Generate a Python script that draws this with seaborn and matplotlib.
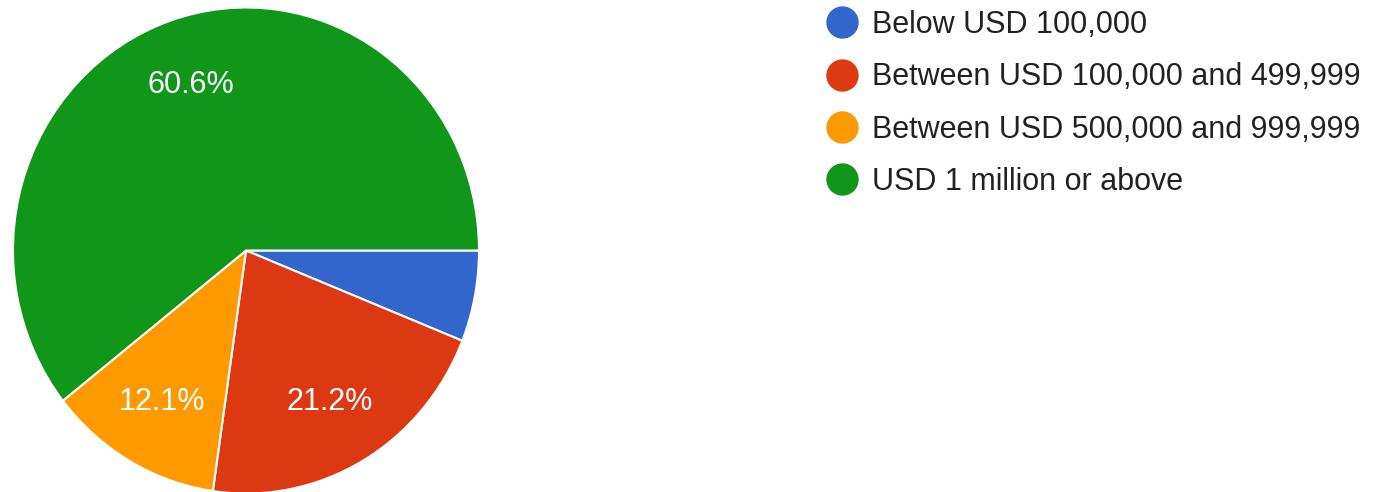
import matplotlib
matplotlib.use("Agg")
import matplotlib.pyplot as plt
from matplotlib.lines import Line2D
import seaborn as sns

categories = ["Below USD 100,000",
              "Between USD 100,000 and 499,999",
              "Between USD 500,000 and 999,999",
              "USD 1 million or above"]
counts = [2, 7, 4, 20]
colors = ["#3366cc", "#dc3912", "#ff9900", "#109618"]

sns.set_style("white")
plt.rcParams['font.family'] = ['Liberation Sans', 'DejaVu Sans']

fig = plt.figure(figsize=(13.79, 4.92), dpi=100)
# the reference pie is slightly taller than wide: 466 x 486 px, centre at (246, 250.5)
ax = fig.add_axes([13 / 1379, -1.5 / 492, 466 / 1379, 486 / 492])

wedges, texts, autotexts = ax.pie(
    counts, colors=colors, startangle=0, counterclock=False,
    autopct=lambda p: f"{p:.1f}%" if p > 10 else "",
    pctdistance=0.72,
    wedgeprops=dict(edgecolor="white", linewidth=1.5),
    textprops=dict(color="white", fontsize=22))
ax.set_xlim(-1, 1)
ax.set_ylim(-1, 1)
ax.set_aspect("auto")
ax.axis("off")

handles = [Line2D([], [], marker="o", linestyle="", markersize=22.3,
                  markerfacecolor=c, markeredgecolor=c) for c in colors]
fig.legend(handles, categories, loc="upper left",
           bbox_to_anchor=(826.7 / 1379, 1 - 10 / 492),
           frameon=False, fontsize=22, labelcolor="#212121",
           handlelength=1.0, handletextpad=0.48, labelspacing=0.73,
           borderpad=0, borderaxespad=0)

fig.savefig("out.png", dpi=100)
